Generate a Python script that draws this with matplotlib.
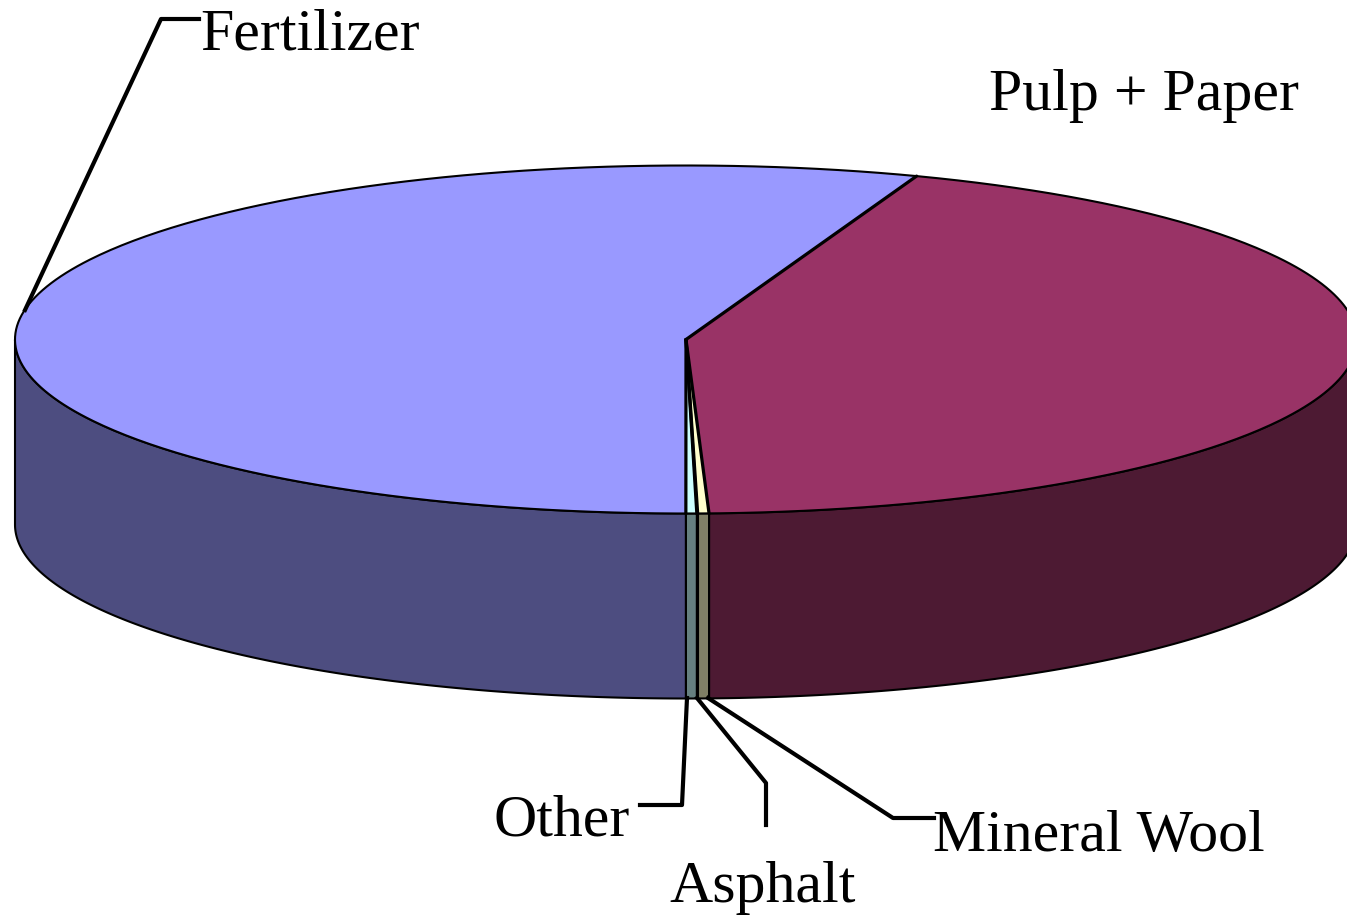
import numpy as np
import matplotlib.pyplot as plt
from matplotlib.patches import Polygon
from matplotlib.colors import to_rgb

# slices, clockwise from the first-slice angle
labels = ['Pulp + Paper', 'Mineral Wool', 'Asphalt', 'Other', 'Fertilizer']
values = [43.87, 0.27, 0.02, 0.26, 55.58]
colors = ['#993366', '#FFFFCC', '#660066', '#CCFFFF', '#9999FF']

W, H = 1347, 916
cx, cy, rx, ry, depth = 686, 339.5, 671, 174, 185
start = 69.9

plt.rcParams['font.family'] = 'Liberation Serif'

fig = plt.figure(figsize=(W / 100, H / 100), dpi=100)
ax = fig.add_axes([0, 0, 1, 1])
ax.set_xlim(0, W)
ax.set_ylim(H, 0)
ax.axis('off')


def arc(a0, a1, dz=0, n=200):
    t = np.radians(np.linspace(a0, a1, n))
    return np.column_stack([cx + rx * np.cos(t), cy - ry * np.sin(t) + dz])


bounds = start - np.concatenate([[0], np.cumsum(values)]) * 3.6

# front side walls
for i, c in enumerate(colors):
    a0, a1 = bounds[i], bounds[i + 1]
    side = tuple(np.array(to_rgb(c)) * 0.5)
    for shift in (0, -360):
        hi = min(a0, 0 + shift)
        lo = max(a1, -180 + shift)
        if hi <= lo:
            continue
        pts = np.vstack([arc(hi, lo), arc(lo, hi, depth)])
        ax.add_patch(Polygon(pts, closed=True, facecolor=side,
                             edgecolor='black', lw=1.5, joinstyle='round'))

# top face
for i, c in enumerate(colors):
    a0, a1 = bounds[i], bounds[i + 1]
    pts = np.vstack([[cx, cy], arc(a0, a1)])
    ax.add_patch(Polygon(pts, closed=True, facecolor=c, edgecolor='none'))

ell = arc(0, 360, n=600)
ax.plot(ell[:, 0], ell[:, 1], color='black', lw=1.5)
for a in bounds[:-1]:
    p = arc(a, a, n=1)[0]
    ax.plot([cx, p[0]], [cy, p[1]], color='black', lw=2.3,
            solid_capstyle='round')

# labels with leader lines
lw_lead = 3.0
fs = 43
ax.plot([25, 161, 199], [310, 19, 19], color='black', lw=lw_lead)
ax.text(200, 50, 'Fertilizer', fontsize=fs, ha='left', va='baseline')

ax.text(989, 110, 'Pulp + Paper', fontsize=fs, ha='left', va='baseline')

ax.plot([687, 682, 640], [698, 805, 805], color='black', lw=lw_lead)
ax.text(493, 836, 'Other', fontsize=fs, ha='left', va='baseline')

ax.plot([697, 766, 766], [698, 783, 825], color='black', lw=lw_lead)
ax.text(669, 902, 'Asphalt', fontsize=fs, ha='left', va='baseline')

ax.plot([708, 893, 934], [698, 818, 818], color='black', lw=lw_lead)
ax.text(933, 851, 'Mineral Wool', fontsize=fs, ha='left', va='baseline')

fig.savefig('out.png', dpi=100)
